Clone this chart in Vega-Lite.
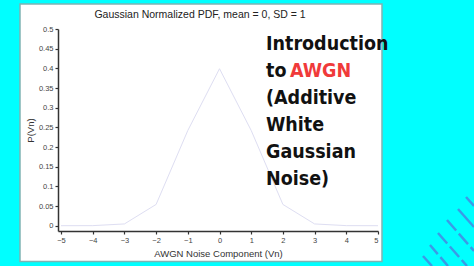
{
  "$schema": "https://vega.github.io/schema/vega-lite/v6.json",
  "width": 320,
  "height": 202,
  "autosize": {"type": "none"},
  "padding": {"left": 58, "top": 29, "right": 96, "bottom": 35},
  "background": "#00ffff",
  "config": {
    "view": {"stroke": null},
    "font": "Liberation Sans",
    "axis": {"grid": false, "domainColor": "#333333", "domainWidth": 1.5, "tickColor": "#333333", "tickWidth": 1.2, "tickSize": 3, "labelFont": "Liberation Sans", "labelFontSize": 7.5, "labelColor": "#444444", "titleFont": "Liberation Sans", "titleFontSize": 9.5, "titleFontWeight": "normal", "titleColor": "#333333"}
  },
  "title": {"text": "Gaussian Normalized PDF, mean = 0, SD = 1", "fontSize": 10.5, "fontWeight": "normal", "color": "#222222", "offset": -17, "dx": -18, "font": "Liberation Sans", "zindex": 3},
  "data": {"values": [
    {"vn": -5, "p": 0.0000015},
    {"vn": -4, "p": 0.000134},
    {"vn": -3, "p": 0.00443},
    {"vn": -2, "p": 0.054},
    {"vn": -1, "p": 0.242},
    {"vn": 0, "p": 0.399},
    {"vn": 1, "p": 0.242},
    {"vn": 2, "p": 0.054},
    {"vn": 3, "p": 0.00443},
    {"vn": 4, "p": 0.000134},
    {"vn": 5, "p": 0.0000015}
  ]},
  "encoding": {
    "x": {"field": "vn", "type": "quantitative", "scale": {"domain": [-5.095, 5], "nice": false, "zero": false}, "axis": {"zindex": 3, "values": [-5,-4,-3,-2,-1,0,1,2,3,4,5], "title": "AWGN Noise Component (Vn)", "labelPadding": 2, "titlePadding": 5}},
    "y": {"field": "p", "type": "quantitative", "scale": {"domain": [-0.0135, 0.5], "nice": false, "zero": false}, "axis": {"zindex": 3, "values": [0,0.05,0.1,0.15,0.2,0.25,0.3,0.35,0.4,0.45,0.5], "format": "~g", "title": "P(Vn)", "labelPadding": 2, "titlePadding": 3}}
  },
  "layer": [
    {
      "transform": [{"filter": "datum.vn === 0"}],
      "mark": {"type": "rect", "fill": "#ffffff", "stroke": "#7fb3b3", "strokeWidth": 1.5, "clip": false},
      "encoding": {"x": {"datum": -6.294}, "x2": {"datum": 5.126}, "y": {"datum": 0.5635}, "y2": {"datum": -0.091}}
    },
    {
      "mark": {"type": "line", "color": "#dedef2", "strokeWidth": 1}
    },
    {
      "transform": [{"filter": "datum.vn === 0"}],
      "mark": {"type": "text", "text": ["Introduction", "to", "(Additive", "White", "Gaussian", "Noise)"], "font": "DejaVu Sans Condensed", "fontWeight": "bold", "fontSize": 19.5, "lineHeight": 27, "align": "left", "baseline": "alphabetic", "color": "#111111", "clip": false},
      "encoding": {"x": {"datum": 1.467}, "y": {"datum": 0.4466}}
    },
    {
      "transform": [{"filter": "datum.vn === 0"}],
      "mark": {"type": "text", "text": "AWGN", "font": "DejaVu Sans Condensed", "fontWeight": "bold", "fontSize": 19.5, "align": "left", "baseline": "alphabetic", "color": "#f03a3a", "clip": false},
      "encoding": {"x": {"datum": 2.224}, "y": {"datum": 0.378}}
    },
    {"transform": [{"filter": "datum.vn === 0"}], "mark": {"type": "rule", "color": "#3a9be6", "strokeWidth": 2.5, "clip": false}, "encoding": {"x": {"datum": 7.776}, "y": {"datum": 0.0729}, "x2": {"datum": 8.028}, "y2": {"datum": 0.0501}}},
    {"transform": [{"filter": "datum.vn === 0"}], "mark": {"type": "rule", "color": "#3a9be6", "strokeWidth": 2.5, "clip": false}, "encoding": {"x": {"datum": 7.523}, "y": {"datum": 0.0424}, "x2": {"datum": 8.028}, "y2": {"datum": -0.0033}}},
    {"transform": [{"filter": "datum.vn === 0"}], "mark": {"type": "rule", "color": "#3a9be6", "strokeWidth": 2.5, "strokeDash": [14, 4], "clip": false}, "encoding": {"x": {"datum": 7.176}, "y": {"datum": 0.0145}, "x2": {"datum": 8.028}, "y2": {"datum": -0.0643}}},
    {"transform": [{"filter": "datum.vn === 0"}], "mark": {"type": "rule", "color": "#3a9be6", "strokeWidth": 2.5, "strokeDash": [14, 4], "clip": false}, "encoding": {"x": {"datum": 6.892}, "y": {"datum": -0.0186}, "x2": {"datum": 7.807}, "y2": {"datum": -0.1025}}},
    {"transform": [{"filter": "datum.vn === 0"}], "mark": {"type": "rule", "color": "#3a9be6", "strokeWidth": 2.5, "strokeDash": [12, 4], "clip": false}, "encoding": {"x": {"datum": 6.64}, "y": {"datum": -0.0491}, "x2": {"datum": 7.208}, "y2": {"datum": -0.1025}}},
    {"transform": [{"filter": "datum.vn === 0"}], "mark": {"type": "rule", "color": "#3a9be6", "strokeWidth": 2.5, "clip": false}, "encoding": {"x": {"datum": 6.419}, "y": {"datum": -0.0771}, "x2": {"datum": 6.703}, "y2": {"datum": -0.1025}}}
  ]
}
